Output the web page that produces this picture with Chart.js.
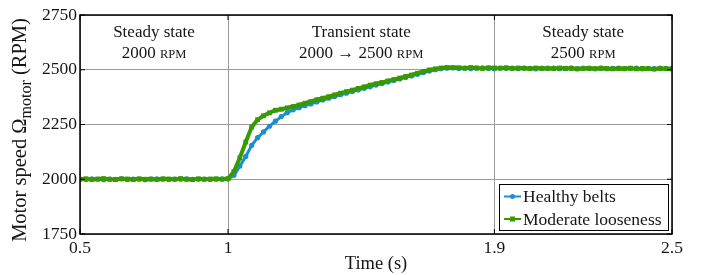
<!DOCTYPE html>
<html>
<head>
<meta charset="utf-8">
<script src="https://cdn.jsdelivr.net/npm/chart.js@4.4.1/dist/chart.umd.min.js"></script>
<style>
  html, body { margin: 0; padding: 0; background: #fff; }
</style>
</head>
<body>
<canvas id="chart" width="710" height="275"></canvas>
<script>
// time axis (s)
const time = [
  0.50, 0.52, 0.54, 0.56, 0.58, 0.60, 0.62, 0.64, 0.66, 0.68,
  0.70, 0.72, 0.74, 0.76, 0.78, 0.80, 0.82, 0.84, 0.86, 0.88,
  0.90, 0.92, 0.94, 0.96, 0.98, 1.00, 1.02, 1.04, 1.06, 1.08,
  1.10, 1.12, 1.14, 1.16, 1.18, 1.20, 1.22, 1.24, 1.26, 1.28,
  1.30, 1.32, 1.34, 1.36, 1.38, 1.40, 1.42, 1.44, 1.46, 1.48,
  1.50, 1.52, 1.54, 1.56, 1.58, 1.60, 1.62, 1.64, 1.66, 1.68,
  1.70, 1.72, 1.74, 1.76, 1.78, 1.80, 1.82, 1.84, 1.86, 1.88,
  1.90, 1.92, 1.94, 1.96, 1.98, 2.00, 2.02, 2.04, 2.06, 2.08,
  2.10, 2.12, 2.14, 2.16, 2.18, 2.20, 2.22, 2.24, 2.26, 2.28,
  2.30, 2.32, 2.34, 2.36, 2.38, 2.40, 2.42, 2.44, 2.46, 2.48,
  2.50
]

// motor speed (RPM)
const healthy = [
  2001, 1999, 2002, 2000, 1998, 2001, 2000, 2002, 1999, 2001,
  2000, 1998, 2001, 2002, 2000, 1999, 2001, 2000, 2002, 1999,
  2000, 2001, 1999, 2000, 2002, 2001, 2018, 2060, 2104, 2155,
  2190, 2216, 2242, 2265, 2286, 2304, 2317, 2327, 2336, 2344,
  2353, 2362, 2370, 2378, 2386, 2393, 2401, 2408, 2415, 2422,
  2430, 2437, 2444, 2451, 2458, 2465, 2472, 2479, 2487, 2494,
  2500, 2505, 2507, 2508, 2506, 2508, 2505, 2507, 2509, 2506,
  2505, 2508, 2506, 2507, 2505, 2508, 2506, 2504, 2507, 2506,
  2508, 2505, 2506, 2507, 2505, 2508, 2506, 2504, 2507, 2505,
  2506, 2508, 2505, 2506, 2507, 2504, 2506, 2505, 2507, 2506,
  2505
]

const moderate = [
  2000, 2002, 1999, 2001, 2003, 2000, 1999, 2002, 2001, 1999,
  2002, 2000, 2001, 1999, 2002, 2001, 2000, 2003, 2000, 1999,
  2002, 2000, 2001, 2002, 2000, 2003, 2035, 2098, 2170, 2238,
  2272, 2290, 2303, 2315, 2320, 2326, 2332, 2339, 2347, 2355,
  2363, 2370, 2377, 2385, 2393, 2400, 2407, 2415, 2422, 2430,
  2436, 2442, 2449, 2455, 2462, 2469, 2476, 2484, 2492, 2499,
  2504, 2508, 2510, 2510, 2509, 2507, 2510, 2508, 2506, 2509,
  2508, 2507, 2509, 2506, 2508, 2507, 2505, 2508, 2506, 2507,
  2505, 2508, 2506, 2507, 2504, 2506, 2507, 2505, 2507, 2506,
  2504, 2506, 2505, 2507, 2504, 2506, 2505, 2503, 2506, 2505,
  2504
]

const seriesNames = ['Healthy belts', 'Moderate looseness']
const xTicks = [0.5, 1, 1.9, 2.5]
const stateTitles = ['Steady state', 'Transient state', 'Steady state']
const stateSpeeds = ['2000', '2000 \u2192 2500', '2500']

const blue = '#1b8ed2'
const green = '#389a00'
const ink = '#161616'
const serif = "'Liberation Serif', 'Times New Roman', serif"

function font(size) {
  return size + 'px ' + serif
}

// draws a label with a small-caps unit after it, centred on x
function drawWithUnit(ctx, text, unit, x, y) {
  ctx.font = font(17)
  const w1 = ctx.measureText(text + ' ').width
  ctx.font = font(12.5)
  const w2 = ctx.measureText(unit).width
  let start = x - (w1 + w2) / 2
  ctx.textAlign = 'left'
  ctx.font = font(17)
  ctx.fillText(text + ' ', start, y)
  ctx.font = font(12.5)
  ctx.fillText(unit, start + w1, y)
}

const overlay = {
  id: 'overlay',
  afterDatasetsDraw(chart) {
    const { ctx, chartArea: a, scales } = chart
    ctx.save()

    // frame
    ctx.strokeStyle = '#000'
    ctx.lineWidth = 1.5
    ctx.strokeRect(a.left, a.top, a.right - a.left, a.bottom - a.top)

    // inward tick marks on all four sides
    ctx.lineWidth = 1
    ctx.beginPath()
    scales.x.ticks.forEach(t => {
      const px = scales.x.getPixelForValue(t.value)
      ctx.moveTo(px, a.bottom); ctx.lineTo(px, a.bottom - 5)
      ctx.moveTo(px, a.top); ctx.lineTo(px, a.top + 5)
    })
    scales.y.ticks.forEach(t => {
      const py = scales.y.getPixelForValue(t.value)
      ctx.moveTo(a.left, py); ctx.lineTo(a.left + 5, py)
      ctx.moveTo(a.right, py); ctx.lineTo(a.right - 5, py)
    })
    ctx.stroke()

    // state annotations between the vertical ticks
    ctx.fillStyle = ink
    ctx.textBaseline = 'alphabetic'
    stateTitles.forEach((title, i) => {
      const cx = (scales.x.getPixelForValue(xTicks[i]) + scales.x.getPixelForValue(xTicks[i + 1])) / 2
      ctx.font = font(17)
      ctx.textAlign = 'center'
      ctx.fillText(title, cx, a.top + 22)
      drawWithUnit(ctx, stateSpeeds[i], 'RPM', cx, a.top + 43)
    })

    // legend box
    const lw = 170, lh = 47
    const lx = a.right - lw - 3, ly = a.bottom - lh - 3
    ctx.fillStyle = '#fff'
    ctx.fillRect(lx, ly, lw, lh)
    ctx.strokeStyle = '#000'
    ctx.lineWidth = 1
    ctx.strokeRect(lx + 0.5, ly + 0.5, lw - 1, lh - 1)
    const colors = [blue, green]
    seriesNames.forEach((name, i) => {
      const ry = ly + 12.5 + i * 22.5
      ctx.strokeStyle = colors[i]
      ctx.lineWidth = 2
      ctx.beginPath()
      ctx.moveTo(lx + 5, ry); ctx.lineTo(lx + 22, ry)
      ctx.stroke()
      ctx.fillStyle = colors[i]
      if (i === 0) {
        ctx.beginPath(); ctx.arc(lx + 13.5, ry, 2.5, 0, Math.PI * 2); ctx.fill()
      } else {
        ctx.fillRect(lx + 11, ry - 2.5, 5, 5)
      }
      ctx.fillStyle = ink
      ctx.font = font(17.5)
      ctx.textAlign = 'left'
      ctx.textBaseline = 'middle'
      ctx.fillText(name, lx + 24, ry + 1)
    })
    ctx.restore()
  },
  afterDraw(chart) {
    const { ctx, chartArea: a } = chart
    ctx.save()
    ctx.fillStyle = ink

    // x title
    ctx.font = font(18.5)
    ctx.textAlign = 'center'
    ctx.textBaseline = 'middle'
    ctx.fillText('Time (s)', (a.left + a.right) / 2, 264)

    // y title with subscript
    const parts = [
      { t: 'Motor speed \u03a9', s: 20.5, dy: 0 },
      { t: 'motor', s: 16, dy: 6 },
      { t: ' (RPM)', s: 20.5, dy: 0 }
    ]
    let total = 0
    parts.forEach(p => { ctx.font = font(p.s); p.w = ctx.measureText(p.t).width; total += p.w })
    ctx.translate(21, 130)
    ctx.rotate(-Math.PI / 2)
    ctx.textAlign = 'left'
    ctx.textBaseline = 'middle'
    let px = -total / 2
    parts.forEach(p => {
      ctx.font = font(p.s)
      ctx.fillText(p.t, px, p.dy)
      px += p.w
    })
    ctx.restore()
  }
}

new Chart(document.getElementById('chart'), {
  type: 'line',
  data: {
    labels: time,
    datasets: [
      {
        label: seriesNames[0],
        data: time.map((t, i) => ({ x: t, y: healthy[i] })),
        borderColor: blue,
        backgroundColor: blue,
        borderWidth: 3,
        pointStyle: 'circle',
        pointRadius: 2.6,
        pointBorderWidth: 0,
        order: 2
      },
      {
        label: seriesNames[1],
        data: time.map((t, i) => ({ x: t, y: moderate[i] })),
        borderColor: green,
        backgroundColor: green,
        borderWidth: 4,
        pointStyle: 'rect',
        pointRadius: 3.4,
        pointBorderWidth: 0,
        order: 1
      }
    ]
  },
  options: {
    responsive: false,
    animation: false,
    layout: { padding: { top: 15, right: 38, left: 0, bottom: 0 } },
    plugins: {
      legend: { display: false },
      tooltip: { enabled: false }
    },
    scales: {
      x: {
        type: 'linear',
        min: 0.5,
        max: 2.5,
        afterBuildTicks: scale => { scale.ticks = xTicks.map(v => ({ value: v })) },
        afterFit: scale => { scale.height = 41 },
        grid: { color: '#9a9a9a', lineWidth: 1, drawTicks: false },
        border: { display: false },
        ticks: {
          autoSkip: false,
          maxRotation: 0,
          padding: 4,
          color: ink,
          font: { family: serif, size: 17.5 },
          callback: v => String(v)
        }
      },
      y: {
        min: 1750,
        max: 2750,
        afterFit: scale => { scale.width = 80 },
        grid: { color: '#9a9a9a', lineWidth: 1, drawTicks: false },
        border: { display: false },
        ticks: {
          stepSize: 250,
          padding: 3,
          color: ink,
          font: { family: serif, size: 17.5 },
          callback: v => String(v)
        }
      }
    }
  },
  plugins: [overlay]
})
</script>
</body>
</html>
